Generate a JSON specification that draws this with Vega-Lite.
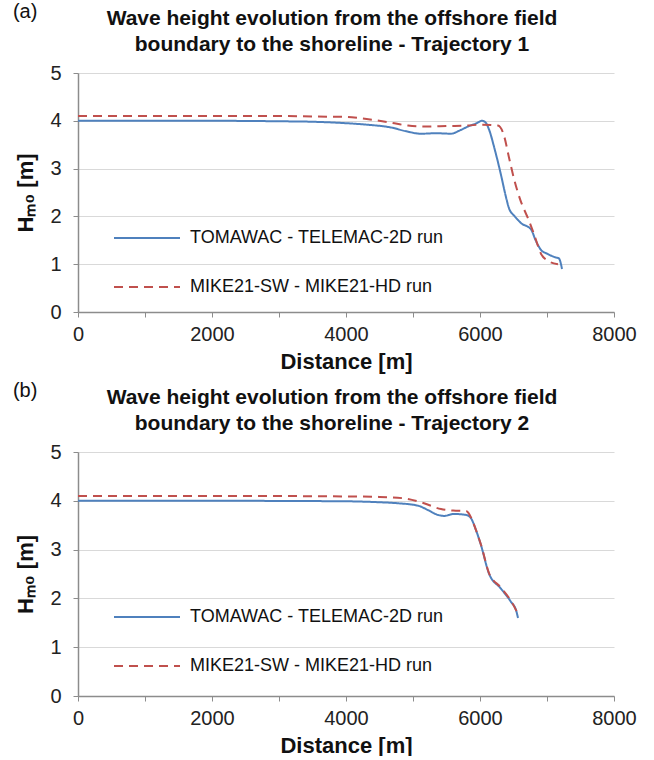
{
  "$schema": "https://vega.github.io/schema/vega-lite/v6.json",
  "padding": {"left": 12, "top": 2, "right": 6, "bottom": 0},
  "background": "white",
  "datasets": {
    "t1": [
      {"model": "TOMAWAC - TELEMAC-2D run", "distance": 0, "hm0": 4.0},
      {"model": "TOMAWAC - TELEMAC-2D run", "distance": 1000, "hm0": 4.0},
      {"model": "TOMAWAC - TELEMAC-2D run", "distance": 2000, "hm0": 4.0},
      {"model": "TOMAWAC - TELEMAC-2D run", "distance": 3000, "hm0": 3.99},
      {"model": "TOMAWAC - TELEMAC-2D run", "distance": 3500, "hm0": 3.98},
      {"model": "TOMAWAC - TELEMAC-2D run", "distance": 4000, "hm0": 3.95},
      {"model": "TOMAWAC - TELEMAC-2D run", "distance": 4300, "hm0": 3.92},
      {"model": "TOMAWAC - TELEMAC-2D run", "distance": 4672, "hm0": 3.86},
      {"model": "TOMAWAC - TELEMAC-2D run", "distance": 4900, "hm0": 3.78},
      {"model": "TOMAWAC - TELEMAC-2D run", "distance": 5120, "hm0": 3.73},
      {"model": "TOMAWAC - TELEMAC-2D run", "distance": 5350, "hm0": 3.74},
      {"model": "TOMAWAC - TELEMAC-2D run", "distance": 5567, "hm0": 3.73},
      {"model": "TOMAWAC - TELEMAC-2D run", "distance": 5700, "hm0": 3.8},
      {"model": "TOMAWAC - TELEMAC-2D run", "distance": 5820, "hm0": 3.88},
      {"model": "TOMAWAC - TELEMAC-2D run", "distance": 5950, "hm0": 3.95},
      {"model": "TOMAWAC - TELEMAC-2D run", "distance": 6030, "hm0": 4.0},
      {"model": "TOMAWAC - TELEMAC-2D run", "distance": 6080, "hm0": 3.97},
      {"model": "TOMAWAC - TELEMAC-2D run", "distance": 6134, "hm0": 3.82},
      {"model": "TOMAWAC - TELEMAC-2D run", "distance": 6220, "hm0": 3.4},
      {"model": "TOMAWAC - TELEMAC-2D run", "distance": 6313, "hm0": 2.87},
      {"model": "TOMAWAC - TELEMAC-2D run", "distance": 6380, "hm0": 2.45},
      {"model": "TOMAWAC - TELEMAC-2D run", "distance": 6433, "hm0": 2.17},
      {"model": "TOMAWAC - TELEMAC-2D run", "distance": 6520, "hm0": 2.0},
      {"model": "TOMAWAC - TELEMAC-2D run", "distance": 6612, "hm0": 1.86},
      {"model": "TOMAWAC - TELEMAC-2D run", "distance": 6761, "hm0": 1.73},
      {"model": "TOMAWAC - TELEMAC-2D run", "distance": 6830, "hm0": 1.5},
      {"model": "TOMAWAC - TELEMAC-2D run", "distance": 6910, "hm0": 1.3},
      {"model": "TOMAWAC - TELEMAC-2D run", "distance": 7000, "hm0": 1.22},
      {"model": "TOMAWAC - TELEMAC-2D run", "distance": 7134, "hm0": 1.14},
      {"model": "TOMAWAC - TELEMAC-2D run", "distance": 7179, "hm0": 1.12},
      {"model": "TOMAWAC - TELEMAC-2D run", "distance": 7200, "hm0": 1.05},
      {"model": "TOMAWAC - TELEMAC-2D run", "distance": 7224, "hm0": 0.9},
      {"model": "MIKE21-SW - MIKE21-HD run", "distance": 0, "hm0": 4.1},
      {"model": "MIKE21-SW - MIKE21-HD run", "distance": 1000, "hm0": 4.1},
      {"model": "MIKE21-SW - MIKE21-HD run", "distance": 2000, "hm0": 4.1},
      {"model": "MIKE21-SW - MIKE21-HD run", "distance": 3000, "hm0": 4.1},
      {"model": "MIKE21-SW - MIKE21-HD run", "distance": 3500, "hm0": 4.09},
      {"model": "MIKE21-SW - MIKE21-HD run", "distance": 4000, "hm0": 4.08},
      {"model": "MIKE21-SW - MIKE21-HD run", "distance": 4179, "hm0": 4.06},
      {"model": "MIKE21-SW - MIKE21-HD run", "distance": 4400, "hm0": 4.02},
      {"model": "MIKE21-SW - MIKE21-HD run", "distance": 4672, "hm0": 3.96},
      {"model": "MIKE21-SW - MIKE21-HD run", "distance": 4925, "hm0": 3.9},
      {"model": "MIKE21-SW - MIKE21-HD run", "distance": 5200, "hm0": 3.88},
      {"model": "MIKE21-SW - MIKE21-HD run", "distance": 5500, "hm0": 3.89},
      {"model": "MIKE21-SW - MIKE21-HD run", "distance": 5820, "hm0": 3.9},
      {"model": "MIKE21-SW - MIKE21-HD run", "distance": 6000, "hm0": 3.92},
      {"model": "MIKE21-SW - MIKE21-HD run", "distance": 6268, "hm0": 3.9},
      {"model": "MIKE21-SW - MIKE21-HD run", "distance": 6358, "hm0": 3.69},
      {"model": "MIKE21-SW - MIKE21-HD run", "distance": 6430, "hm0": 3.25},
      {"model": "MIKE21-SW - MIKE21-HD run", "distance": 6507, "hm0": 2.79},
      {"model": "MIKE21-SW - MIKE21-HD run", "distance": 6600, "hm0": 2.35},
      {"model": "MIKE21-SW - MIKE21-HD run", "distance": 6716, "hm0": 1.96},
      {"model": "MIKE21-SW - MIKE21-HD run", "distance": 6806, "hm0": 1.63},
      {"model": "MIKE21-SW - MIKE21-HD run", "distance": 6910, "hm0": 1.22},
      {"model": "MIKE21-SW - MIKE21-HD run", "distance": 7015, "hm0": 1.07},
      {"model": "MIKE21-SW - MIKE21-HD run", "distance": 7164, "hm0": 1.0}
    ],
    "t2": [
      {"model": "TOMAWAC - TELEMAC-2D run", "distance": 0, "hm0": 4.0},
      {"model": "TOMAWAC - TELEMAC-2D run", "distance": 2000, "hm0": 4.0},
      {"model": "TOMAWAC - TELEMAC-2D run", "distance": 4000, "hm0": 3.99},
      {"model": "TOMAWAC - TELEMAC-2D run", "distance": 4500, "hm0": 3.97},
      {"model": "TOMAWAC - TELEMAC-2D run", "distance": 4776, "hm0": 3.95},
      {"model": "TOMAWAC - TELEMAC-2D run", "distance": 5075, "hm0": 3.9},
      {"model": "TOMAWAC - TELEMAC-2D run", "distance": 5224, "hm0": 3.81},
      {"model": "TOMAWAC - TELEMAC-2D run", "distance": 5373, "hm0": 3.71},
      {"model": "TOMAWAC - TELEMAC-2D run", "distance": 5463, "hm0": 3.69},
      {"model": "TOMAWAC - TELEMAC-2D run", "distance": 5612, "hm0": 3.73},
      {"model": "TOMAWAC - TELEMAC-2D run", "distance": 5791, "hm0": 3.71},
      {"model": "TOMAWAC - TELEMAC-2D run", "distance": 5866, "hm0": 3.64},
      {"model": "TOMAWAC - TELEMAC-2D run", "distance": 5940, "hm0": 3.4},
      {"model": "TOMAWAC - TELEMAC-2D run", "distance": 6015, "hm0": 3.09},
      {"model": "TOMAWAC - TELEMAC-2D run", "distance": 6134, "hm0": 2.51},
      {"model": "TOMAWAC - TELEMAC-2D run", "distance": 6313, "hm0": 2.2},
      {"model": "TOMAWAC - TELEMAC-2D run", "distance": 6462, "hm0": 1.93},
      {"model": "TOMAWAC - TELEMAC-2D run", "distance": 6540, "hm0": 1.75},
      {"model": "TOMAWAC - TELEMAC-2D run", "distance": 6567, "hm0": 1.6},
      {"model": "MIKE21-SW - MIKE21-HD run", "distance": 0, "hm0": 4.1},
      {"model": "MIKE21-SW - MIKE21-HD run", "distance": 2000, "hm0": 4.1},
      {"model": "MIKE21-SW - MIKE21-HD run", "distance": 4000, "hm0": 4.09},
      {"model": "MIKE21-SW - MIKE21-HD run", "distance": 4500, "hm0": 4.08},
      {"model": "MIKE21-SW - MIKE21-HD run", "distance": 4866, "hm0": 4.05},
      {"model": "MIKE21-SW - MIKE21-HD run", "distance": 5164, "hm0": 3.95},
      {"model": "MIKE21-SW - MIKE21-HD run", "distance": 5418, "hm0": 3.83},
      {"model": "MIKE21-SW - MIKE21-HD run", "distance": 5600, "hm0": 3.8},
      {"model": "MIKE21-SW - MIKE21-HD run", "distance": 5791, "hm0": 3.79},
      {"model": "MIKE21-SW - MIKE21-HD run", "distance": 5870, "hm0": 3.65},
      {"model": "MIKE21-SW - MIKE21-HD run", "distance": 5940, "hm0": 3.4},
      {"model": "MIKE21-SW - MIKE21-HD run", "distance": 6015, "hm0": 3.1},
      {"model": "MIKE21-SW - MIKE21-HD run", "distance": 6134, "hm0": 2.52},
      {"model": "MIKE21-SW - MIKE21-HD run", "distance": 6313, "hm0": 2.22},
      {"model": "MIKE21-SW - MIKE21-HD run", "distance": 6462, "hm0": 1.95},
      {"model": "MIKE21-SW - MIKE21-HD run", "distance": 6567, "hm0": 1.68}
    ]
  },
  "spacing": 9,
  "vconcat": [
    {
      "title": {"text": "(a)", "anchor": "start", "frame": "bounds", "fontSize": 20, "fontWeight": "normal", "offset": -14, "dx": -2},
      "vconcat": [
        {
          "title": {"text": ["Wave height evolution from the offshore field", "boundary to the shoreline - Trajectory 1"]},
          "width": 536,
          "height": 239,
          "data": {"name": "t1"},
          "mark": {"type": "line", "strokeWidth": 2, "interpolate": "monotone"},
          "encoding": {
            "x": {"field": "distance", "type": "quantitative", "scale": {"domain": [0, 8000], "nice": false},
              "axis": {"title": "Distance [m]", "values": [0, 1000, 2000, 3000, 4000, 5000, 6000, 7000, 8000], "labelExpr": "datum.value % 2000 == 0 ? datum.label : ''", "grid": false, "format": "d"}},
            "y": {"field": "hm0", "type": "quantitative", "scale": {"domain": [0, 5], "nice": false},
              "axis": {"title": "Hₘ₀ [m]", "values": [0, 1, 2, 3, 4, 5], "grid": true, "format": "d"}},
            "color": {"field": "model", "type": "nominal", "sort": ["TOMAWAC - TELEMAC-2D run", "MIKE21-SW - MIKE21-HD run"],
              "scale": {"domain": ["TOMAWAC - TELEMAC-2D run", "MIKE21-SW - MIKE21-HD run"], "range": ["#4F81BD", "#C0504D"]}},
            "strokeDash": {"field": "model", "type": "nominal", "sort": ["TOMAWAC - TELEMAC-2D run", "MIKE21-SW - MIKE21-HD run"],
              "scale": {"domain": ["TOMAWAC - TELEMAC-2D run", "MIKE21-SW - MIKE21-HD run"], "range": [[1, 0], [9, 6]]}},
            "order": {"field": "distance", "type": "quantitative"}
          }
        }
      ]
    },
    {
      "title": {"text": "(b)", "anchor": "start", "frame": "bounds", "fontSize": 20, "fontWeight": "normal", "offset": -14, "dx": -2},
      "vconcat": [
        {
          "title": {"text": ["Wave height evolution from the offshore field", "boundary to the shoreline - Trajectory 2"]},
          "width": 536,
          "height": 244,
          "data": {"name": "t2"},
          "mark": {"type": "line", "strokeWidth": 2, "interpolate": "monotone"},
          "encoding": {
            "x": {"field": "distance", "type": "quantitative", "scale": {"domain": [0, 8000], "nice": false},
              "axis": {"title": "Distance [m]", "values": [0, 1000, 2000, 3000, 4000, 5000, 6000, 7000, 8000], "labelExpr": "datum.value % 2000 == 0 ? datum.label : ''", "grid": false, "format": "d"}},
            "y": {"field": "hm0", "type": "quantitative", "scale": {"domain": [0, 5], "nice": false},
              "axis": {"title": "Hₘ₀ [m]", "values": [0, 1, 2, 3, 4, 5], "grid": true, "format": "d"}},
            "color": {"field": "model", "type": "nominal", "sort": ["TOMAWAC - TELEMAC-2D run", "MIKE21-SW - MIKE21-HD run"],
              "scale": {"domain": ["TOMAWAC - TELEMAC-2D run", "MIKE21-SW - MIKE21-HD run"], "range": ["#4F81BD", "#C0504D"]}},
            "strokeDash": {"field": "model", "type": "nominal", "sort": ["TOMAWAC - TELEMAC-2D run", "MIKE21-SW - MIKE21-HD run"],
              "scale": {"domain": ["TOMAWAC - TELEMAC-2D run", "MIKE21-SW - MIKE21-HD run"], "range": [[1, 0], [9, 6]]}},
            "order": {"field": "distance", "type": "quantitative"}
          }
        }
      ]
    }
  ],
  "resolve": {"scale": {"color": "independent", "strokeDash": "independent"}, "legend": {"color": "independent", "strokeDash": "independent"}},
  "config": {
    "font": "Liberation Sans",
    "view": {"stroke": null},
    "title": {"fontSize": 21, "fontWeight": "bold", "color": "#111", "anchor": "middle", "frame": "group", "dx": -14, "offset": 8, "lineHeight": 26},
    "axisX": {"tickSize": 5, "labelPadding": 7, "titlePadding": 7, "labelFlush": false, "labelOverlap": false},
    "axisY": {"tickSize": 5, "labelPadding": 12, "titlePadding": 12},
    "axis": {
      "labelFont": "Liberation Sans",
      "labelFontSize": 20,
      "labelColor": "#222",
      "titleFont": "Liberation Sans",
      "titleFontSize": 22,
      "titleFontWeight": "bold",
      "titleColor": "#111",
      "domainColor": "#8c8c8c",
      "tickColor": "#8c8c8c",
      "gridColor": "#d9d9d9",
      "domainWidth": 1.5
    },
    "legend": {
      "orient": "none",
      "legendX": 35,
      "legendY": 131,
      "title": null,
      "symbolType": "stroke",
      "symbolSize": 4356,
      "symbolStrokeWidth": 2,
      "labelFontSize": 18,
      "labelLimit": 400,
      "labelColor": "#111",
      "labelOffset": 9,
      "rowPadding": 6
    }
  }
}
